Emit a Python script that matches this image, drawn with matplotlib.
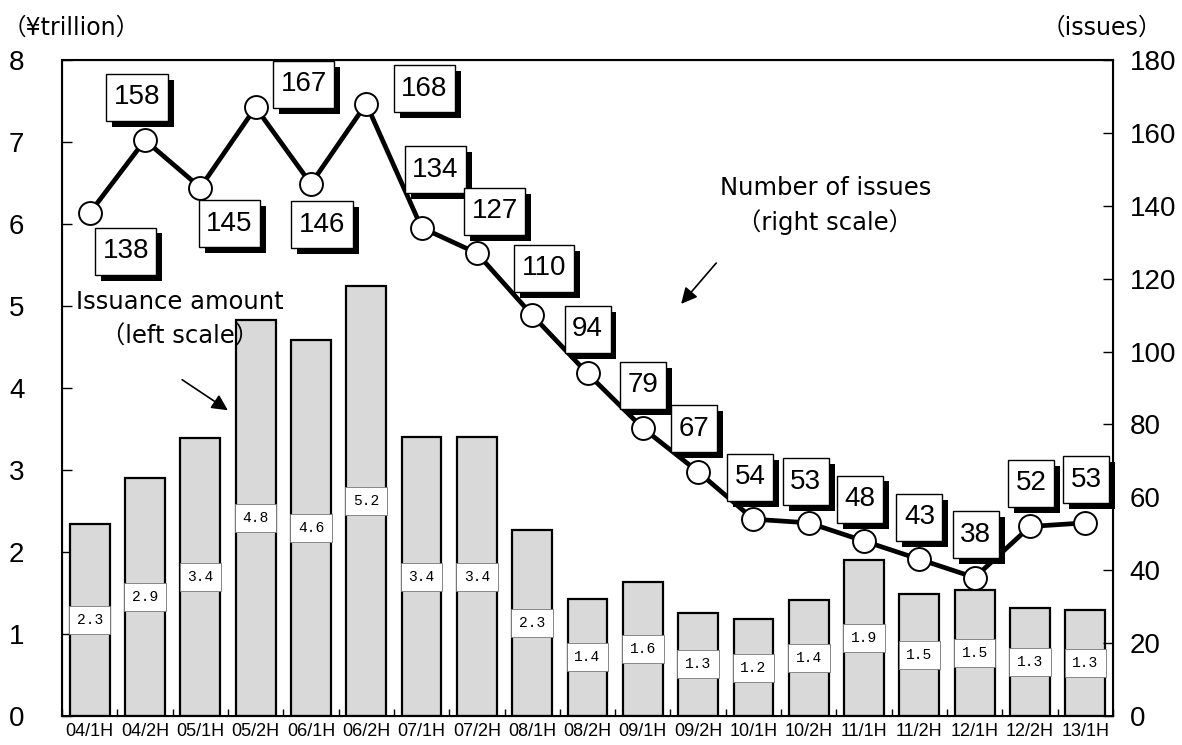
import matplotlib.pyplot as plt
import matplotlib.patheffects as pe
from matplotlib.path import Path
import numpy as np

plt.rcParams['font.family'] = ['DejaVu Sans', 'Noto Sans CJK JP']
digits = ['Liberation Sans', 'DejaVu Sans']

periods = ["04/1H", "04/2H", "05/1H", "05/2H", "06/1H", "06/2H", "07/1H", "07/2H",
           "08/1H", "08/2H", "09/1H", "09/2H", "10/1H", "10/2H", "11/1H", "11/2H",
           "12/1H", "12/2H", "13/1H"]
amount = [2.34, 2.90, 3.39, 4.83, 4.59, 5.24, 3.40, 3.40, 2.27, 1.43, 1.63, 1.26,
          1.18, 1.41, 1.90, 1.49, 1.54, 1.32, 1.29]
amount_labels = ["2.3", "2.9", "3.4", "4.8", "4.6", "5.2", "3.4", "3.4", "2.3", "1.4",
                 "1.6", "1.3", "1.2", "1.4", "1.9", "1.5", "1.5", "1.3", "1.3"]
issues = [138, 158, 145, 167, 146, 168, 134, 127, 110, 94, 79, 67, 54, 53, 48, 43, 38, 52, 53]
# where each issues label box sits relative to its point (pixels)
label_offsets = [(36, -38), (-8, 43), (29, -36), (48, 23), (11, -41), (58, 15), (14, 58),
                 (18, 42), (12, 47), (0, 44), (0, 43), (-4, 43), (-3, 42), (-3, 41),
                 (-4, 42), (0, 42), (1, 43), (1, 43), (1, 43)]


def tall_box(x0, y0, width, height, mutation_size):
    # square box, padded more top/bottom than left/right
    px, py = 0.27 * mutation_size, 0.38 * mutation_size
    x0, x1 = x0 - px, x0 + width + px
    y0, y1 = y0 - py, y0 + height + py
    return Path([(x0, y0), (x1, y0), (x1, y1), (x0, y1), (x0, y0)], closed=True)


x = np.arange(len(periods))
bw = 0.72

fig = plt.figure(figsize=(11.82, 7.45), dpi=100)
ax = fig.add_axes([62/1182, 29/745, 1051/1182, 656/745])

ax.bar(x, amount, width=bw, color="#d9d9d9", edgecolor="black", linewidth=1.6, zorder=2)
# white label boxes in the middle of each bar
box_h = 0.34
ax.bar(x, box_h, bottom=np.array(amount)/2 - box_h/2, width=bw+0.03, color="white",
       edgecolor="#777777", linewidth=0.6, zorder=3)
for i in range(len(x)):
    ax.text(x[i], amount[i]/2, amount_labels[i], ha="center", va="center",
            fontsize=10.5, family="Liberation Mono", zorder=4)

ax.set_xlim(-0.5, len(x) - 0.5)
ax.set_ylim(0, 8)
ax.set_yticks(range(0, 9))
ax.tick_params(axis="y", direction="in", length=7, width=1, labelsize=20, pad=27)
ax.set_xticks(x)
ax.set_xticklabels(periods, fontsize=13, family=digits)
ax.set_xticks(np.arange(-0.5, len(x), 1), minor=True)
ax.tick_params(axis="x", which="major", length=0, pad=5)
ax.tick_params(axis="x", which="minor", direction="in", length=5, width=1)
for s in ax.spines.values():
    s.set_linewidth(1.5)
for lab in ax.get_yticklabels():
    lab.set_family(digits)

ax2 = ax.twinx()
ax2.plot(x, issues, color="black", linewidth=3.4, marker="o", markersize=16.5,
         markerfacecolor="white", markeredgecolor="black", markeredgewidth=1.4, zorder=5)
ax2.set_ylim(0, 180)
ax2.set_yticks(range(0, 181, 20))
ax2.tick_params(axis="y", direction="in", length=7, width=1, labelsize=20, pad=12)
for lab in ax2.get_yticklabels():
    lab.set_family(digits)

for i in range(len(x)):
    t = ax2.annotate(str(issues[i]), (x[i], issues[i]), xytext=label_offsets[i],
                     textcoords="offset pixels", ha="center", va="center", fontsize=20,
                     family=digits, zorder=6,
                     bbox=dict(boxstyle=tall_box, facecolor="white",
                               edgecolor="black", linewidth=1))
    t.get_bbox_patch().set_path_effects([
        pe.SimplePatchShadow(offset=(4.3, -4.3), shadow_rgbFace="black", alpha=1),
        pe.Normal()])

ax.annotate("", xy=(2.54, 3.71), xytext=(1.63, 4.12),
            arrowprops=dict(arrowstyle="-|>", color="black", lw=1.2, mutation_scale=24))
ax.text(1.63, 4.84, "Issuance amount\n（left scale）", ha="center", va="center",
        fontsize=17.5, linespacing=1.55)
ax.annotate("", xy=(10.66, 5.0), xytext=(11.36, 5.55),
            arrowprops=dict(arrowstyle="-|>", color="black", lw=1.2, mutation_scale=24))
ax.text(13.3, 6.23, "Number of issues\n（right scale）", ha="center", va="center",
        fontsize=17.5, linespacing=1.45)

fig.text(3 / 1182, 1 - 28 / 745, "（¥trillion）", ha="left", va="center", fontsize=17)
fig.text(1162 / 1182, 1 - 28 / 745, "（issues）", ha="right", va="center", fontsize=17)

fig.savefig("out.png", dpi=100)
